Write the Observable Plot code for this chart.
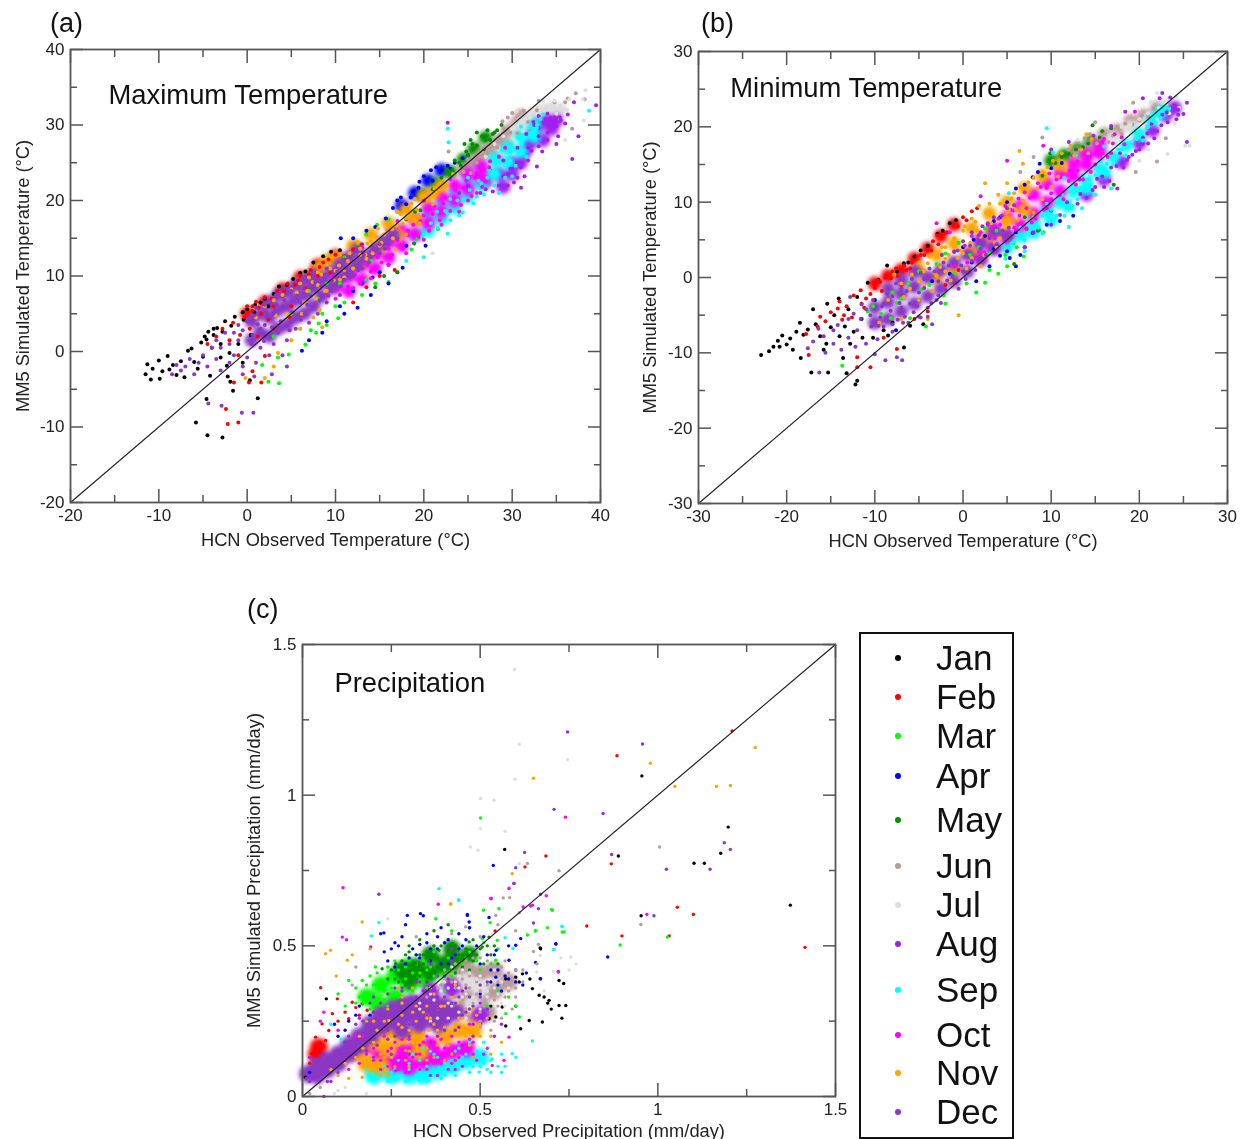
<!DOCTYPE html>
<html>
<head>
<meta charset="utf-8">
<script src="https://cdn.jsdelivr.net/npm/d3@7"></script>
<script src="https://cdn.jsdelivr.net/npm/@observablehq/plot@0.6"></script>
<style>
html,body{margin:0;padding:0;background:#fff;}
#page{position:relative;width:1247px;height:1139px;overflow:hidden;font-family:"Liberation Sans",Arial,sans-serif;color:#111;filter:blur(.35px);}
#page svg{position:absolute;max-width:none;background:transparent;}
.dense-band{filter:blur(2.2px);}
.tag{position:absolute;font-size:27px;line-height:30px;}
#legend{position:absolute;left:859px;top:632px;width:151px;height:503px;border:2px solid #111;}
.lg-dot{position:absolute;width:6px;height:6px;border-radius:50%;left:34px;}
.lg-txt{position:absolute;left:75px;font-size:35px;line-height:40px;}
</style>
</head>
<body>
<div id="page"></div>
<script>
const months=["Jan","Feb","Mar","Apr","May","Jun","Jul","Aug","Sep","Oct","Nov","Dec"];
const monthColors=["#000000","#ff0000","#00ff00","#0000ff","#008f00","#bc9a9a","#dedede","#a020f0","#00ffff","#ff00ff","#ffa500","#8a38c4"];

// Panel (a) maximum temperature: observed, simulated pairs
const maxJan=[-11.5,-3,-11.3,-1.7,-10.9,-3.7,-10.7,-2.3,-10,-1.2,-9.9,-3.6,-9.6,-2.6,-9,-.6,-8.8,-2.4,-8.4,-1.8,-8,-3.1,-7.5,-1.3,-7.1,-3.4,-6.7,.1,-6.3,.4,-6,-1.4,-5.6,-2.3,-5.2,1.2,-5,-.7,-4.8,2,-4.4,2.6,-4,.5,-3.8,3,-3.4,3.1,-3,-.8,-3,1,-2.5,4,-2.3,-1.9,-2,-.2,-1.4,4.6,-1,1,-.5,5.2,0,5.6,.4,2.2,.9,6.2,1.5,6.5,2,7,3,7.6,3.6,8.6,4.5,8.8,5.2,9.6,6,10.4,6.6,10.6,7.5,11.8,8.6,12.6,9.5,13.2,10.5,13.4,-5.8,-9.4,-4.5,-11.1,-2.8,-11.4,1.2,-6.2,-1.6,-5.2,-4.6,-6.3,-.5,-1.5,-1.9,-4,.3,-3.8,-4.2,-3.2,-2.2,-3.3,-3.8,2.2,-2.8,2.6,-1.8,3.4,-.4,4.2,.8,5.2,2.4,6,-4.6,1.6];
const maxFeb=[-4.5,1,-3.5,2,-2.8,3,-2,1.5,-1.6,3.8,-1,-.5,-.8,2.2,-.3,4.5,0,6,.3,3,.6,5.4,1,6.6,1.2,2,1.6,5,2,7.2,2.4,4.2,3,6,3.4,8,4,7.4,4.6,9,5,6,5.4,8.8,6,10,6.6,8.4,7.2,10.8,8,10,8.6,11.8,9.4,10.4,10,12.8,11,12.6,12,13.5,13,14.2,-1.5,-4.1,.2,-4.1,1.6,-4.1,.6,-2.6,2,-.6,-2.2,-9.6,-1,-9.4,-2.4,-7.6,.6,6,1.3,5.8,2.8,7,4.2,8,5.8,9.4,7,10.2,8.2,11.2,9.2,12.2,3,3,4.8,4.5,12,6.5,13.5,8.5,15,10,16.7,10.8];
const maxMar=[1.7,-1.8,3.6,-4.2,2.4,-4,4.7,-.4,6.6,.9,8.1,3.7,10.3,4.4,7.2,2.8,7.8,2.5,9,3.5,8.5,5,10,6,11,6.5,12,8,13,7.5,13.5,9.5,14.5,9,15,10.6,16,9.2,17,10.5,19.3,15,21.6,16.2,18.6,13.5,3,2,5,5,7,8,9,9,6,3,11,12.5,12.5,14.3,13.5,15.5,14.7,16.8,16,17.5,17,18.5,3.5,-.8,10.5,9,12,11,8,7,14,12];
const maxApr=[20.8,24,21.4,24.4,22.7,24.6,24.4,25.6,19.4,21.7,17.4,20.4,18.5,20.4,15.7,17.6,10.6,15,20.2,14,17.6,11.1,14.2,9.8,6.2,.1,12,15,13.5,16,14.5,16.5,16.5,19,18,19.5,19.5,22.5,20,23.2,21,22.6,22,24,23,24.2,23.5,25,25,26,12,8,13,9,15,10.5,16,11.5,18,14,9,4,10.5,6,11,5,7,1.5,8.5,2.5,16,9,12.5,5.8,14,7.5,17,20,18.8,21.2];
const maxMay=[25.3,28,27.2,29.3,28.3,29.3,25.6,26.9,24.2,24.6,22.7,24,19.6,18.7,17,10.5,18.9,14.3,23.2,24,24,25,25,26,26,27.3,26.6,28.5,27.5,28,28,29,26,29,25.5,27.5,27,28,24.8,26.5,22,23,21,21.5,20,20,19,18.5,18,17.5,19.5,17,15.5,10,14.5,8.5,23.5,25.3,24.6,27.5,26.8,26.8,27.8,28.8,28.8,30];
const maxJun=[29.5,31,31.3,31.9,30.6,28.9,28.3,27,27.2,26.2,25.3,23.6,37.2,34.2,36.3,33.5,38.2,33.4,26,25,26.7,27,28,28,29,29.6,29.8,29,30,31.6,24.5,23.8,25,25.4,28.9,30.5,31.8,30.4,32.8,32,35.4,30.8,36,33,34.8,33,33,33.2,22.8,26.5,36.8,29.5];
const maxJul=[34,32.4,35.5,32.6,38.3,34.6,38.1,30.6,29,28.5,30,29.5,31,30.5,32,31,32.8,32.5,33.5,33.2,34.8,33.2,36.2,32,36.5,33.4,35,31.5,37,33,38,33.4,30.5,31.8,27,25.8,28,27.5,31.2,29.2,28.5,21,21,13,36,28];
const maxAug=[33.6,30.3,30.6,27,30.6,23,29,25.3,31.8,25.3,35.5,30.6,22.7,30.3,39.5,32.6,36.3,31.4,37,33,24,21,25,22,26,23.5,27.5,24,27,21.5,28.5,22,29.5,22,30,24.2,31,21.7,31.8,27,33,28.5,33.4,26.5,34,28,35.2,28.5,35,29.8,32.5,30,33,31.2,34.3,31,36,30.2,34,31.5,36.8,25.5,37.5,28.5,30.5,25,32.8,24.5,29.5,23.5,33,29.6,33.8,30.8,34.4,30.4,34.8,31,35.4,31,32.4,30.4,31.6,28.8,32.2,26.6,31,24.4,30.2,22.4,29,23.2,33,27.2,34,29,35,27.5,29.8,24.2,27.8,21.2,26.4,21,31.4,23.2];
const maxSep=[22.7,29.5,22.8,27.7,22.7,15.6,20,12.5,38.7,31.9,29.8,25.3,32.1,28.9,27.2,23,24.5,20,22.7,18.3,31,29.8,30,27,28,25,25,23,26.5,22.3,27.8,23.8,23,20.2,21.5,18.5,29,27,31,28,32.8,30,33.5,31.4,30,23.2,31,26.2,18,12,20,15.5,24,18,26,20.5,28.5,21,19.8,15.2,20.8,17,21.6,16.4,22.4,18.6,23,17.4,23.8,20,24.4,18.4,25.2,21.4,25.6,19.6,26.2,22.6,26.8,20.8,27.4,24,28,22,28.6,25,29.2,23,29.8,26.4,30.4,24.6,31,27.6,31.6,25.8,32.2,28.6,32.8,29.6,33.2,30.8,30.6,28.4,28.8,26.6];
const maxOct=[26.8,24,24.5,21.7,22.2,19.6,19.6,17.3,17,14.7,14.8,12.5,12.5,10.7,27.5,25.2,25.8,23,23.4,20.4,21,18.2,18.2,16,16,13.6,13.6,11.5,11,9.5,9,7.5,10,7,12,8.4,14,9.7,16,11.5,18,13,20,14.8,22,16.8,24,18.5,25,20,26,21,27,22.5,28.5,25.8,29.2,27,9.5,10,13,13.8,17,17.3,20,20,23,22.8,11.4,8.6,12.2,10.2,12.8,9,13.4,11.6,14,10.6,14.6,12.8,15.2,11.8,15.8,13.8,16.4,12.8,17,15,17.6,13.6,18.2,15.4,18.8,16.8,19.4,15.2,20,18,20.6,16,21.2,19.2,21.8,17.4,22.4,20.4,23,18.6,23.6,21.4,24.2,19.4,24.8,22.6,25.4,20.6,26,23.6,26.6,21.8,27.4,24.4];
const maxNov=[20.4,20.4,18.1,18.7,15.9,16.4,13.6,14.3,11.4,12,21.5,21.5,22.5,22,23.3,23.5,19,20.2,17,18.5,14.8,16.3,12.5,14.5,10.5,12.8,9,11.5,8,10.5,7,9.8,6,9,5,8.2,4,7.5,3,6.8,2,6,1,4.5,9,8,10.5,9.5,12,11,13.5,12.3,15,14,16.5,15,18,15.5,19.5,17,21,19.5,6,3,7.5,4.5,8.5,3.2,5,1.5,3.5,-.2,2,-3.5,3,-2,-.2,-3.5,6.5,6.5,8,8.8,10,10.7,11,9.8,12.8,12.8,14.2,13,15.5,15.5,16.8,13.5,17.6,17,8.2,5.5,4.5,5,3.2,4.8,5.6,7.8,6.2,5,6.8,8,7.4,9.2,7.8,7,8.4,10.2,8.8,8,9.4,11,9.8,9.4,10.4,11.4,11,10.8,11.6,13,12.2,12,12.8,13.6,13.4,12.8,14,14.6,14.6,15.2,15.2,14.4,15.8,16.2,16.4,16.2,17,16.8,17.4,18.2,18,17.6,18.6,19.6,19.2,18.8,19.8,20.4,20.6,20.2,21.2,21.6];
const maxDec=[-8.5,-3,-8,-1.8,-7.5,-2.5,-7,-2,-6.5,-1,-6,-3,-5.5,-1.5,-5,-.5,-4.5,-2,-4,.5,-3.5,-1,-3.5,1.5,-3,-2.5,-3,.5,-2.5,2.5,-2,-1.5,-2,1,-1.5,2.5,-1.5,-.5,-1,1.5,-1,3.5,-.5,-2,-.5,2.8,0,-.8,0,4,.5,1,.8,4.8,1,-1.5,1.5,.5,1.5,3,2,2,2.5,-.5,3,1,3.5,2.5,4.5,1.5,5,4,5.5,3,6,6.5,6.5,5,7,3.8,7.5,6,8,5,8.5,7.5,9,6.5,9.5,8,10,9,10.5,7.5,11,9.5,12,10,13,11,14,12.5,15,13,16,14.2,17,15,2,3.5,3,5,4,6,5,8,7,8.5,9,11,11,12.2,-4.4,-6.9,-2.9,-7.2,-.6,-8.1,.7,-8.1,-.5,-3,.8,-3.3,2.8,-3,4.5,-2,4,-.5,.6,2.2,1.2,3.6,1.9,1.4,2.2,5.2,2.8,3.2,3.3,6.2,3.8,4,4.2,6.8,4.8,2.8,5.1,5.2,5.6,7.4,6.1,4.2,6.4,8.4,6.8,6.2,7.2,7.4,7.7,9.2,8.2,6.8,8.4,8.6,8.8,10.2,9.2,7.4,9.6,9.4,10.2,10.6,10.6,8.6,11.2,11,11.6,9.8,12.2,12,12.6,10.8,13.2,12.8,13.8,11.8,14.2,13.8,15,14.2,15.6,13.6,16.2,15.4,1,5.8,2,6.2,3.2,7.4,4.6,8.2];
const maxFebDense=[0,5,2,6.5,4,8.2,6,9.8,8,11.4,10,12.6];
const maxAprDense=[17.5,19.3,19,21,20.5,22.6,22,24];
const maxMayDense=[20,20.7,21.5,22.2,23,23.8,24.5,25.4,25.7,26.8,27,28.3];
const maxJunDense=[24.5,24,25.5,25,26.5,26,27.5,27,28.5,28,29.5,29.2,30.5,30.2,31,31.2,28.2,25.5,29.5,27.2];
const maxJulDense=[30.5,29.5,31.5,30.5,32.5,31.5,33.5,32,34.5,32.3,35.5,32,31.5,28.5];
const maxAugDense=[33,30,34,30.5,35,30.6,32.5,29,31,25,31.5,26.5,30,23.5,32,27.5,30,25,28.5,23.5,27,22.5,33.5,28,34.5,29.5,29,21.8];
const maxSepDense=[19,15.5,20.5,16,20.5,18,22,17.5,22,19.5,23.5,19,23.5,21,25,20.5,25,22.5,26.5,22,26.5,24,28,23.5,28,25.5,29.5,25,29.5,27,31,26.5,31,28.5,32.5,28.5,32.5,30];
const maxOctDense=[10,8.5,11.5,10,11.5,8,13,11.5,13,9.5,14.5,13,14.5,11,16,14.5,16,12.5,17.5,16,17.5,14,19,17.5,19,15.5,20.5,19,20.5,17,22,20.5,22,18.5,23.5,22,23.5,20,25,23.5,25,21.5,26.5,24.5,26.5,23];
const maxNovDense=[6,9,7,10,8,11,9,12,10,12.5,12,14,14,15.5,16,17,18,18.8,20,20.5,21,21,22,22,13,12,15,13.8,17,15.5,19,17.5];
const maxDecDense=[.5,1.5,.5,4,1.5,2.5,1.5,5,2.5,2,2.5,4.5,2.5,6.5,3.5,3,3.5,5.5,3.5,7.5,4.5,3.5,4.5,6,4.5,8,5.5,4.5,5.5,6.8,5.5,8.8,6.5,5,6.5,7.5,6.5,9.5,7.5,6,7.5,8.5,7.5,10.2,8.5,7.3,8.5,9.5,9.5,8.5,9.5,10.5,10.5,9.5,10.5,11.5,11.5,10.5,11.5,12.5,12.5,11.5,12.5,13.5,13.5,12.5,14.5,13.5,15.5,14.5,16.5,15.5];

// Panel (b) minimum temperature: observed, simulated pairs
const minJan=[-22.9,-10.3,-22,-9.8,-21.5,-9.2,-21,-8.4,-20.5,-7.7,-20.8,-9.2,-20,-8.9,-19.6,-8.1,-19.3,-9.6,-18.9,-7.2,-18.5,-6,-18.1,-7.6,-18.4,-10.7,-17.6,-6.9,-17.2,-12.6,-17,-4.2,-16.7,-6.2,-16.2,-7.8,-15.8,-9.6,-15.4,-3.5,-15.3,-12.6,-15,-6.6,-14.6,-5,-14.1,-2.8,-13.6,-10.7,-13.2,-12.7,-13.4,-6.5,-13,-4.2,-12.4,-7.2,-12,-13.7,-12.2,-14.2,-12,-2.6,-11.4,-8,-10.8,-.7,-10.2,-8,-10,-3,-9.6,-.3,-9,-7,-8.6,1.6,-8.5,-7.7,-8,-6,-7.5,.8,-6.7,-9.3,-6.7,1.9,-6.2,2,-6,-6.4,-5.5,2.8,-4.8,3.6,-4,4.2,-2.9,5.8,-2.3,6.2,-1.5,7.2,-.8,7.6,-4.5,-6.2,-11.5,-5.5,-12.8,-8.8,-15.5,-8.8,-14,-7.8];
const minFeb=[-17.5,-10.3,-16.2,-5.2,-15.6,-5.8,-15,-4.6,-14.2,-4.1,-13.7,-5.6,-13.2,-3.8,-12.6,-5.3,-12,-10.6,-12,-11.9,-11.6,-1.7,-11.2,-4,-10.5,-11.9,-10.5,-2.2,-9.7,-.4,-9.2,-1.8,-8.2,-.1,-7.6,1.2,-7,-1,-6.7,1.6,-6,1.2,-5.2,2.8,-4.8,3,-4,3.6,-3.4,4.8,-2.9,5.6,-2,5.9,-1.1,7.1,0,8,1,8.8,-17.8,-7.5,-16.5,-6.5,-5.5,-5.5,-4,-4.5,-2,-1,-.5,1,-7.5,-9.5,-9,-8,-14,-3.2,-12.4,-2.4,-11,-2.8,-10,-1.4,-9.4,-.6,-8.8,0,-8,.8,-7.4,.2,-6.4,1,-5.8,2,-4.4,3,-3.6,3.6,-2.8,4.4,-1.8,6,-.6,6.8,.4,7.6,1.6,9.2,-13.5,-5,-11.5,-3.5];
const minMar=[-13.7,-11.7,-10.8,-4.5,-10.2,-3.8,-9.3,-4.8,-8.2,-5.4,-7.5,-3.4,-7,-2.8,-6,-5.4,-4.2,-6.5,-2.2,-2.4,-2,-3.5,.4,-.8,1.5,-2,3,1,6.1,4,5.7,4.5,9.1,6,4,.5,-4.7,-1.6,-5,.8,-3,1.8,-2,3.2,-.5,4.6,1.8,4,2.5,6.5,3.8,6.2,4.8,3,5,1.5,2.5,-.7,6.9,2.8,-6.2,-.8,-8,-2,-3.8,-1,-1,.5,.8,3,3,3.2];
const minApr=[7.9,13.3,8.7,15.1,12.5,8.2,10,8.9,7.9,5.9,5.3,2.6,4.2,2.9,3,1.5,6,1.5,7,4,6,6,5,3.5,3.5,3.8,1.5,-.5,-7.6,-7,-5,-3,-1.5,.5,1,2,2.5,5.5,3.5,7.5,5,10,6,11.8,7,12.3,8.5,14,10,14.5,11.2,15.2,6.5,3,8.6,6.3,9.5,7,11,7.5,0,4,-3.5,-.5,4.2,8,1.2,5];
const minMay=[14.7,20.2,15.5,18.6,13.6,17.3,9.9,16.5,17.1,12.3,12,16.4,12.8,17,14.2,17.8,15.8,19.4,16.8,19.8,10.5,15.2,11.2,16,9,13.5,7,8,8.5,6.2,5.8,1.8,7.2,6.5];
const minJun=[18.4,20.4,16.1,19.1,20.3,21.5,19.3,23.2,22,15.4,15,20.6,13,18,12,17,14.2,16.5,16.5,18,17.5,20,19.2,20.3,20,20.8,21,21.3,21.6,22.4,18,19,13.8,18.5,15.2,17.8,17,18.8,14.4,19,9,18.6,8,16,6.5,14,19.6,14,23,18.5];
const minJul=[18,20,19,20.3,20,21,21,21.8,22,21,22.2,22.5,23,23,23.4,21.8,24,20.5,24.5,22.5,24.2,24,22,24.5,21.3,23.3,21,17,20,15.5,23.2,16.4,25.2,17.5,25.7,17.5,16,16,14,13.5,12.5,10,10,7,13,18.3];
const minAug=[23.1,21.9,20.9,19.1,17.8,16.5,15.2,13.1,13.3,11.1,25.4,23.2,25.4,18,20.4,23.8,22.3,23.8,23.5,23.9,24.4,22.3,24.2,21,22.5,20.2,21.7,18.5,20.4,17.8,19.2,16.3,18.6,15.6,16.8,14.6,16,12,14.7,11.6,13.2,13,11.8,10,11,8.3,9.5,9.2,10,7,8,6,7,4,16.8,20.1,14.8,18.8,12,18,10,17,18.4,22,22.6,24.5,20,17,25,21.7,17.5,11.8,15,12,15.8,13.4,16.6,12.8,17.4,14.8,18.2,14.6,18.8,16,19.6,16.8,20.4,18.6,21,17.8,21.4,20.4,22,19.4,22.6,21.6,23.2,20.6,24,22.8,24.4,21.6,13,9.8,14,10.6];
const minSep=[16.3,15.1,13.3,11.9,9.5,9.8,6.5,6.6,18.6,17.3,20.9,19.9,22.3,22.2,14.2,12.4,17.5,16.2,19.7,18.4,21.5,20.8,23,22.6,11,10.4,8,8,11.5,8.2,12,6.7,9,5.8,7,3.5,10.2,16.6,9.5,19.8,16.8,11.8,13.5,9.2,15,11,5.5,4.5,4.8,2.5,18,17,16,17.4,12.8,16.2,11.5,13.2,5.2,11.2,5.8,4.8,7,5,7.4,7,8.6,6.6,9,8.2,10,9,10.6,8.2,11.2,11,11.8,9.2,12.4,12.4,13,10.4,13.6,13.6,14.4,12.2,15,13.6,15.6,15.4,16.4,13.8,17,15,17.6,17,18.4,16.2,19,17.8,19.6,19.2,20.4,18.2,21,20,21.8,20.6,22.4,21.2,23.4,22.4];
const minOct=[12.1,14.2,9.5,11.9,5.7,8.9,3.4,6.6,15.2,16.9,11,13.3,13,15.4,14,15.2,10,10.4,8.5,12.5,7.2,9.2,6.3,10.5,4.8,9.5,4,7.8,3,5.5,2,6,1.8,3.4,1,5.5,.5,2,-1,1.5,-1.5,6,16,18.4,17.2,19,18.3,17.7,16.8,16.5,9.1,17.5,5,15.5,2,10.8,-3,7.2,14.5,14,12.8,12.3,11,11,6,6.3,7.8,7.3,19.5,22,.2,4.2,-1,3.5,7,11.3,9.8,13.8,1.4,2.6,2.4,3.4,2.8,7,3.6,5.2,4.2,7,4.8,4.8,5.4,9,5.8,6.6,6.4,8.2,7.2,6.4,7.6,10.6,8.2,7.8,8.8,12,9.2,9,10,11.2,10.6,13,11.4,10.4,12,12.8,12.4,16.2,13,14.2,13.6,13,14.4,16,15,15,15.8,18,16.4,16,17,17.8,18,18.6];
const minNov=[-6.7,-2.6,-4,1.9,0,3.2,5,12.5,6.8,15.1,2.5,12.5,-5,-.5,-3,.2,-2,2.5,-1,4,0,6.2,1,7.8,1.8,9.5,3,9.8,4,11,5.5,10.5,6.5,12,8,13.2,9,14,10.2,15.5,11.2,16.5,12.2,17.5,14,19,3.8,4,2,1.5,-1,-1,-5,-3,-7,-5.5,-8.5,-3,-9.5,-6,-4,-5.5,-.5,-5,6.4,16.8,-7.8,.4,6,9,-6,-1.5,-4.5,.8,-3.5,-1.8,-2.6,1.4,-2,4,-1.4,-.4,-.6,2.6,.4,1.2,.8,4.6,1.6,6.2,2.4,3,3.2,7.2,4.2,5.2,5,8.6,-5.8,.4,-5,2,-4.4,-1,-3.8,2.8,-3.2,.6,-2.4,4,-2,.8,-1.6,3,-1,5.2,-.2,3.6,.2,6.8,1,2.6,1.4,7.4,2,5.4,2.6,8.6,3.6,4.6,4.2,9.8,4.8,6.6,5.2,9,5.8,11.2,6.2,7.6,6.8,10.2,7.4,12.6,8,8.6,8.4,11.8,9,10.4,9.6,14.6,10,12,10.8,13.4,11.6,14.2,12.6,16.2,13.4,17,14.6,18.4,-7,-.8];
const minDec=[-17.6,-9.4,-14.7,-7,-14.7,-8.8,-12.4,-4.8,-9.4,-5.3,-16.3,-12.6,-8.8,-11,-7.5,-10.6,-6.9,-11,-3.5,-6.2,-4.8,-5.3,-17,-8.5,-16.4,-6.8,-15.8,-7.8,-15.6,-10,-14.2,-6.3,-13.8,-9.6,-13,-8,-13,-5.5,-12.2,-9.2,-12,-7,-11.6,-5.5,-11,-8.8,-11,-4.2,-10.4,-6.5,-10.2,-3,-10,-10.2,-9.7,-8.2,-9,-6.5,-9,-3.5,-8,-7.2,-8,-2.5,-7.4,-5.6,-7,-4,-7,-1.5,-6.2,-6,-6,-3.5,-5.6,-1.6,-5,-5.2,-5,-2,-4.4,-.2,-4,-4,-3.8,1.2,-3,-3,-2.8,-.5,-2.2,2,-2,-1.6,-1.2,.2,-1,3.4,0,.8,0,4.8,1,2.2,1,6,2,3.8,2.2,6.8,3,5.2,3.5,8,4.5,6.2,5,9.2,-12.8,-2.6,-11.5,-3.6,-10.5,-5,-9.6,-6.4,-9.2,-3.8,-8.6,-2.2,-8.2,-4.4,-7.6,-.8,-7.2,-3.4,-6.6,-5.2,-6.4,-1.8,-5.8,-.2,-5.2,-3.8,-4.8,.6,-4.4,-1.4,-3.6,-3.4,-3.2,.8,-2.8,-2.4,-2.4,3,-1.8,-.4,-1.6,1.6,-1,-.8,-.6,3.6,-.2,1.6,.3,-.2,.8,4.2,1.4,1,1.8,5.6,2.6,3,2.8,7.2,3.8,4.4,4.4,8.2,5.2,6.6,5.8,9.6,-8,-6.2,-6.8,-6,-2.5,-3.4,-.5,-1.5,-4,-5.2,-5.6,-4.6];
const minFebDense=[-10,-.8,-8.5,.2,-7,1,-5.5,2.5,-4,3.8,-2.5,5.5,-1,7];
const minMayDense=[10,15.5,11.5,16.2,13,17,14.5,18];
const minJunDense=[13,16.5,14.5,17.5,16,19,17.5,19.5,19,20.8,20.5,21.5,22,22.5];
const minJulDense=[17,18.5,19,20,21,21,23,23,24,22.5];
const minAugDense=[14,11,16,13,18,15.3,20,17.8,21.5,19.5,23,21.5,24,22.5];
const minSepDense=[5,4,6.5,5.5,8,7.2,9.5,8.8,11,10,12.5,11.5,14,13,15.5,14.5,17,16,18.5,17.5,20,19,21.5,21,22.5,22,8,6,10,7.6,12,9.5,14,11.8,16,14];
const minOctDense=[2,2.8,2,5,3.5,4,3.5,6.5,5,5.5,5,8,6.5,7,6.5,9.5,8,8.5,8,11,9.5,10,9.5,12.5,11,11.5,11,13.8,12.5,13.5,12.5,15,14,15,14,16.3,15.5,16.5,15.5,17.5];
const minNovDense=[-5,1,-3,3,-1,4.5,1,6.5,3,8.5,5,10,7,11.8,9,13.5,11,15,-3,0,-1,1,1,3.5,3,5.5,5,7.5,7,9];
const minDecDense=[-10,-6,-10,-4,-8.5,-5.5,-8.5,-3.3,-8.5,-1.5,-7,-4.5,-7,-2.2,-7,-.3,-5.5,-3.5,-5.5,-1.2,-5.5,.8,-4,-2.5,-4,0,-2.5,-1.5,-2.5,1,-1,-.5,-1,2,.5,.8,.5,3,2,2.3,2,4.5,3.5,3.8,3.5,6,5,5.5];

// Panel (c) precipitation: observed, simulated pairs
const preJan=[.955,1.064,1.198,.894,1.177,.807,1.131,.774,1.102,.774,.889,.798,.569,.82,1.373,.635,.953,.6,.669,.493,.572,.391,.6,.396,.619,.407,.647,.358,.666,.336,.722,.385,.735,.375,.562,.297,.572,.234,.638,.252,.614,.225,.694,.319,.722,.302,.741,.302,.675,.247,.525,.258,.544,.264,.501,.241,.008,.064,.067,.324,.67,.49,.64,.39,.61,.38,.68,.33,.7,.29,.69,.31,.73,.26,.6,.3,.53,.3];
const preFeb=[.885,1.131,.626,.762,.685,.798,.869,.772,1.055,.628,1.1,.604,.8,.566,.899,.533,1.032,.533,1.414,.495,1.209,1.213,.542,.549,.051,.361,.098,.324,.055,.241,.084,.275,.14,.313,.168,.308,.182,.286,.13,.258,.074,.219,.027,.142,.065,.186,.037,.197,.15,.295,.16,.27,.1,.25,.12,.28,.2,.28,.02,.11];
const preMar=[.501,.924,1.027,.529,.894,.503,.701,.621,.736,.546,.689,.56,.509,.618,.553,.623,.528,.577,.655,.549,.633,.536,.548,.518,.168,.385,.205,.43,.3,.452,.13,.385,.506,.524,.703,.618,.731,.546,.656,.551,.544,.452,.375,.59,.572,.275,.61,.264,.22,.36,.25,.41,.28,.37,.18,.34,.16,.33,.23,.32,.26,.45,.2,.37,.33,.37,.35,.42,.4,.35,.1,.34,.27,.33,.31,.41,.55,.35,.58,.33,.6,.3,.47,.56,.42,.55,.19,.4,.24,.38,.29,.43,.32,.47,.38,.4,.43,.44,.5,.42,.24,.3,.52,.3,.46,.46,.34,.45,.15,.36,.12,.3,.37,.48,.17,.31,.18,.37,.2,.34,.21,.41,.23,.35,.24,.43,.25,.36,.27,.42,.28,.31,.29,.39,.31,.35,.32,.44,.33,.41,.35,.36,.36,.43,.37,.4,.39,.37,.41,.46,.42,.4,.45,.44,.47,.48,.49,.45,.51,.51,.53,.44,.55,.49,.19,.29,.26,.38,.15,.31];
const preApr=[.537,.767,.859,.463,.713,.506,.464,.601,.525,.594,.614,.524,.6,.502,.656,.445,.669,.391,.332,.607,.34,.6,.295,.601,.229,.543,.464,.604,.469,.579,.29,.57,.33,.505,.25,.49,.545,.485,.581,.452,.544,.396,.67,.391,.713,.507,.09,.24,.13,.25,.12,.22,.02,.08,.38,.53,.41,.52,.26,.51,.22,.54,.36,.49,.32,.47,.44,.49,.5,.44,.53,.42,.57,.4,.6,.38,.5,.34,.63,.41,.58,.5,.16,.3,.19,.27,.3,.46,.35,.51,.39,.56,.43,.47,.46,.52,.28,.53,.24,.45,.41,.44,.55,.37,.52,.47,.15,.27,.1,.2,.23,.48,.26,.43,.27,.5,.29,.44,.31,.49,.33,.46,.35,.54,.36,.45,.38,.49,.4,.51,.42,.46,.44,.54,.45,.5,.47,.56,.49,.5,.51,.53,.53,.38,.55,.42,.56,.35,.58,.39,.6,.42,.62,.37,.54,.47,.39,.44];
const preMay=[.384,.485,.318,.441,.281,.407,.422,.507,.469,.513,.506,.496,.262,.441,.355,.45,.525,.529,.224,.424,.3,.48,.34,.42,.36,.47,.4,.45,.44,.47,.46,.49,.28,.45,.32,.39,.25,.42,.33,.52,.37,.55,.41,.57,.3,.5,.49,.47,.53,.47,.55,.44,.35,.38,.38,.43,.43,.41,.3,.42,.27,.38,.48,.52,.39,.5,.51,.44,.24,.39,.47,.42,.34,.47,.26,.39,.28,.43,.29,.47,.31,.43,.33,.4,.34,.44,.35,.48,.37,.41,.38,.46,.39,.42,.41,.48,.41,.43,.43,.5,.45,.43,.45,.47,.48,.45,.5,.49,.52,.5,.54,.5,.29,.37,.33,.47,.37,.5];
const preJun=[1.005,.828,.722,.749,.633,.773,.581,.692,.565,.659,.583,.66,.952,.571,.65,.481,.664,.505,.544,.601,.459,.563,.52,.43,.55,.38,.58,.35,.62,.42,.6,.33,.56,.26,.5,.28,.47,.36,.44,.42,.53,.27,.47,.3,.42,.38,.4,.42,.48,.43,.52,.37,.42,.54,.5,.53,.6,.55,.55,.57,.61,.61,.66,.44,.02,.01,.05,.03,.07,.05,.32,.53,.14,.37,.15,.43,.45,.39,.49,.34,.51,.4,.54,.32,.57,.37,.59,.29,.43,.33,.46,.45,.5,.46,.38,.36,.53,.22,.5,.23,.57,.45,.6,.42,.35,.33,.39,.37,.41,.4,.43,.36,.44,.41,.45,.32,.46,.37,.47,.4,.48,.31,.49,.38,.5,.35,.51,.3,.52,.42,.53,.35,.55,.3,.56,.43,.57,.33,.58,.41,.6,.36,.62,.38,.46,.29,.5,.25,.54,.25,.43,.44,.48,.46,.52,.45];
const preJul=[.597,1.417,.61,1.169,.746,1.118,.598,1.053,.501,.989,.539,.983,.501,.889,.57,.88,.473,.828,.494,.817,.61,.773,.755,.463,.727,.46,.659,.413,.706,.415,.669,.468,.36,.34,.4,.38,.44,.36,.48,.33,.52,.35,.56,.31,.42,.3,.38,.26,.46,.26,.5,.4,.42,.43,.47,.41,.68,.35,.75,.42,.77,.44,.09,.01,.1,.02,.06,.0,.18,.01,.24,.59,.12,.03,.33,.31,.41,.36,.45,.33,.49,.37,.53,.31,.39,.3,.44,.4,.47,.28,.54,.42,.35,.27,.3,.24,.56,.38,.37,.32,.39,.35,.41,.31,.43,.38,.44,.28,.46,.34,.47,.3,.49,.39,.5,.29,.51,.38,.52,.33,.54,.36,.55,.34,.57,.3,.58,.36,.45,.42,.41,.26,.36,.25,.33,.29];
const preAug=[.746,1.21,.708,.953,.846,.939,.215,.671,.595,.707,.192,.496,.3,.3,.34,.35,.38,.33,.42,.31,.46,.28,.48,.24,.5,.33,.54,.2,.56,.24,.47,.17,.25,.3,.2,.33,.16,.26,.08,.05,.03,.06,.42,.45,.36,.44,.42,.49,.06,.0,.3,.24,.38,.2,.02,.13,.45,.35,.4,.4,.32,.38,.28,.35,.52,.29,.35,.27,.44,.23];
const preSep=[.439,.653,.57,.527,.73,.565,.706,.488,.592,.491,.262,.053,.328,.053,.356,.053,.384,.097,.45,.131,.497,.081,.534,.125,.59,.142,.647,.184,.384,.69,.44,.651,.731,.563,.708,.488,.215,.577,.194,.533,.25,.08,.3,.09,.35,.1,.4,.07,.42,.12,.48,.1,.3,.11,.27,.12,.36,.15,.44,.16,.49,.15,.52,.09,.56,.14,.56,.08,.53,.08,.23,.1,.08,.24,.11,.19,.32,.07,.38,.13,.44,.09,.46,.14,.5,.1,.33,.12,.4,.11,.27,.06,.21,.06,.18,.09,.34,.16,.22,.08,.24,.05,.26,.09,.28,.07,.29,.05,.31,.06,.33,.09,.35,.05,.37,.08,.39,.06,.41,.09,.43,.07,.45,.11,.47,.08,.48,.12,.51,.11,.53,.12,.55,.1,.57,.1,.25,.13,.31,.14,.37,.14,.43,.15,.47,.18,.51,.18,.6,.13];
const preOct=[.74,.927,.686,.666,.531,.657,.642,.632,.621,.629,.969,.604,.72,.413,.262,.086,.356,.164,.403,.12,.32,.14,.45,.142,.534,.103,.567,.12,.581,.197,.114,.693,.112,.529,.124,.52,.382,.638,.53,.657,.581,.69,.647,.635,.72,.415,.25,.12,.29,.1,.33,.09,.37,.11,.43,.09,.28,.15,.41,.17,.47,.19,.52,.16,.3,.19,.35,.2,.22,.12,.2,.16,.15,.2,.1,.22,.06,.28,.05,.25,.36,.07,.4,.14,.47,.24,.48,.14,.24,.15,.27,.09,.31,.13,.34,.11,.38,.16,.42,.11,.44,.13,.33,.17,.3,.08,.26,.18,.18,.14,.23,.2,.39,.19,.17,.2,.14,.16,.2,.12,.22,.09,.24,.1,.25,.16,.27,.13,.29,.08,.3,.16,.32,.1,.33,.14,.35,.09,.36,.13,.37,.18,.39,.11,.4,.16,.41,.09,.43,.12,.44,.18,.45,.1,.46,.16,.48,.18,.49,.12,.51,.14,.38,.07,.28,.19,.34,.18,.42,.2,.16,.11,.13,.09];
const preNov=[.168,.579,.417,.64,.065,.474,.079,.485,.126,.452,.19,.49,.14,.47,.095,.4,.65,1.056,.979,1.106,1.274,1.158,1.048,1.029,1.165,1.029,1.204,1.032,.59,.739,.417,.638,.29,.153,.243,.252,.356,.219,.45,.208,.168,.064,.13,.06,.469,.275,.2,.18,.22,.14,.26,.1,.3,.22,.33,.13,.38,.17,.4,.23,.42,.14,.47,.17,.5,.24,.32,.3,.28,.33,.35,.3,.2,.09,.24,.07,.53,.2,.56,.18,.18,.25,.15,.13,.1,.07,.4,.3,.44,.26,.36,.36,.33,.38,.28,.27,.25,.2,.37,.24,.08,.09,.27,.24,.31,.18,.35,.26,.41,.2,.45,.26,.23,.19,.29,.12,.37,.13,.34,.21,.21,.22,.17,.16,.12,.11,.48,.29,.42,.33,.38,.29,.32,.25,.28,.31,.24,.29,.16,.2,.19,.13,.2,.25,.23,.25,.25,.13,.27,.17,.28,.23,.3,.15,.31,.28,.33,.2,.34,.28,.35,.16,.36,.26,.38,.22,.39,.3,.41,.17,.43,.24,.44,.31,.46,.2,.47,.23,.49,.27,.5,.2,.52,.26,.31,.36,.37,.34,.43,.37,.27,.36,.23,.13,.35,.12,.22,.07,.3,.1,.4,.12,.48,.13,.53,.14];
const preDec=[.957,1.17,.625,.81,.87,.803,.6,.759,.595,.707,1.024,.754,1.147,.754,1.187,.842,1.204,.82,.989,.6,.65,.576,.664,.623,.67,.671,.03,.12,.06,.14,.11,.15,.15,.14,.13,.2,.17,.21,.2,.19,.22,.25,.24,.22,.27,.28,.3,.24,.32,.29,.34,.32,.37,.27,.39,.31,.42,.28,.44,.33,.46,.36,.48,.3,.5,.37,.52,.38,.48,.2,.36,.18,.3,.14,.25,.14,.24,.34,.28,.36,.33,.38,.38,.4,.41,.39,.15,.24,.19,.31,.22,.31,.1,.08,.07,.05,.43,.22,.45,.17,.2,.13,.26,.36,.02,.05,.47,.33,.42,.34,.36,.35,.3,.36,.2,.28,.18,.15,.26,.2,.33,.23,.38,.24,.01,.06,.03,.09,.05,.08,.06,.11,.08,.1,.09,.13,.12,.12,.14,.16,.16,.15,.18,.18,.2,.23,.21,.17,.23,.27,.24,.19,.26,.24,.27,.31,.29,.27,.31,.24,.32,.33,.35,.29,.36,.24,.38,.29,.4,.33,.41,.25,.43,.31,.45,.27,.47,.29,.5,.31,.12,.18,.17,.25,.22,.29,.05,.11,.3,.2,.34,.26,.4,.22];
const preFebDense=[.046,.164,.04,.14];
const preMarDense=[.18,.33,.22,.37,.26,.33,.26,.4,.3,.37,.3,.43,.34,.39,.21,.31,.4,.42];
const preMayDense=[.28,.42,.32,.43,.36,.41,.36,.47,.4,.44,.44,.44,.42,.49,.47,.47,.3,.39];
const preJunDense=[.42,.38,.46,.35,.5,.32,.54,.35,.58,.38,.5,.41,.46,.42,.54,.42,.52,.28,.48,.27,.44,.3];
const preJulDense=[.38,.33,.42,.33,.46,.38,.5,.36,.48,.3,.4,.28,.36,.3];
const preAugDense=[.3,.3,.36,.35,.42,.36,.5,.27];
const preSepDense=[.25,.07,.3,.07,.34,.07,.38,.085,.42,.1,.46,.12,.5,.13,.28,.1,.36,.12,.2,.07];
const preOctDense=[.22,.13,.26,.11,.3,.1,.34,.12,.38,.13,.42,.15,.46,.16,.28,.15,.36,.17,.32,.16,.19,.17];
const preNovDense=[.15,.15,.2,.18,.24,.16,.24,.22,.28,.2,.32,.2,.4,.2,.44,.22,.48,.22,.33,.15,.18,.11,.22,.1];
const preDecDense=[.015,.075,.04,.07,.04,.1,.07,.09,.07,.12,.1,.11,.1,.14,.13,.14,.13,.17,.16,.17,.16,.2,.19,.2,.19,.24,.22,.23,.22,.27,.25,.25,.25,.29,.28,.26,.28,.3,.31,.27,.31,.31,.34,.28,.34,.31,.37,.27,.37,.31,.4,.26,.4,.3,.43,.28,.28,.22,.33,.24,.38,.24];

const maxScatter=[maxJan,maxFeb,maxMar,maxApr,maxMay,maxJun,maxJul,maxAug,maxSep,maxOct,maxNov,maxDec];
const maxDense=[[],maxFebDense,[],maxAprDense,maxMayDense,maxJunDense,maxJulDense,maxAugDense,maxSepDense,maxOctDense,maxNovDense,maxDecDense];
const minScatter=[minJan,minFeb,minMar,minApr,minMay,minJun,minJul,minAug,minSep,minOct,minNov,minDec];
const minDense=[[],minFebDense,[],[],minMayDense,minJunDense,minJulDense,minAugDense,minSepDense,minOctDense,minNovDense,minDecDense];
const preScatter=[preJan,preFeb,preMar,preApr,preMay,preJun,preJul,preAug,preSep,preOct,preNov,preDec];
const preDense=[[],preFebDense,preMarDense,[],preMayDense,preJunDense,preJulDense,preAugDense,preSepDense,preOctDense,preNovDense,preDecDense];

const pairs=a=>d3.range(0,a.length,2).map(i=>[a[i],a[i+1]]);
const page=document.getElementById("page");

function panel({scatter,dense,domain,major,minor,xLabel,yLabel,title,titleAt,box,margins,r,rDense,xOff,yOff}){
  const edge=(axis,anchor,ticks,size)=>axis(ticks,{anchor,tickSize:-size,tickFormat:()=>"",stroke:"#555",strokeWidth:1.5,label:null});
  const marks=[];
  months.forEach((m,i)=>marks.push(Plot.dot(pairs(dense[i]),{x:"0",y:"1",r:rDense,fill:monthColors[i],stroke:null,className:"dense-band"})));
  months.forEach((m,i)=>marks.push(Plot.dot(pairs(scatter[i]),{x:"0",y:"1",r,fill:monthColors[i],stroke:null})));
  marks.push(Plot.line([domain,domain].map((d,i)=>[d[i],d[i]]),{x:"0",y:"1",stroke:"#222",strokeWidth:1.2}));
  marks.push(Plot.text([title],{x:()=>titleAt[0],y:()=>titleAt[1],text:d=>d,textAnchor:"start",fontSize:27.4,fill:"#111"}));
  for(const a of ["bottom","top"]){marks.push(edge(Plot.axisX,a,major,13),edge(Plot.axisX,a,minor,7));}
  for(const a of ["left","right"]){marks.push(edge(Plot.axisY,a,major,13),edge(Plot.axisY,a,minor,7));}
  marks.push(Plot.axisX(major,{anchor:"bottom",tickSize:0,tickPadding:6,tickFormat:d=>String(d),label:null,fill:"#222"}));
  marks.push(Plot.axisY(major,{anchor:"left",tickSize:0,tickPadding:6,tickFormat:d=>String(d),label:null,fill:"#222"}));
  marks.push(Plot.axisX(major,{anchor:"bottom",tickSize:0,tickFormat:()=>"",fontSize:18.3,label:xLabel,labelAnchor:"center",labelArrow:"none",labelOffset:xOff,fill:"#222"}));
  marks.push(Plot.axisY(major,{anchor:"left",tickSize:0,tickFormat:()=>"",fontSize:18.3,label:yLabel,labelAnchor:"center",labelArrow:"none",labelOffset:yOff,fill:"#222"}));
  marks.push(Plot.frame({stroke:"#555",strokeWidth:1.8}));
  const svg=Plot.plot({
    width:box[2],height:box[3],
    marginLeft:margins[0],marginRight:margins[1],marginTop:margins[2],marginBottom:margins[3],
    x:{domain},y:{domain},
    style:{fontFamily:"Liberation Sans, Arial, sans-serif",fontSize:"17px",background:"transparent",overflow:"visible"},
    marks
  });
  svg.style.left=box[0]+"px";svg.style.top=box[1]+"px";
  page.appendChild(svg);
}

panel({scatter:maxScatter,dense:maxDense,domain:[-20,40],major:[-20,-10,0,10,20,30,40],minor:[-15,-5,5,15,25,35],
  xLabel:"HCN Observed Temperature (°C)",yLabel:"MM5 Simulated Temperature (°C)",
  title:"Maximum Temperature",titleAt:[-15.7,34],box:[0,0,640,565],margins:[70,40,49,63],r:2,rDense:7,xOff:43,yOff:55});
panel({scatter:minScatter,dense:minDense,domain:[-30,30],major:[-30,-20,-10,0,10,20,30],minor:[-25,-15,-5,5,15,25],
  xLabel:"HCN Observed Temperature (°C)",yLabel:"MM5 Simulated Temperature (°C)",
  title:"Minimum Temperature",titleAt:[-26.4,25.1],box:[640,0,607,565],margins:[58,20,51,62],r:2,rDense:7,xOff:43,yOff:56});
panel({scatter:preScatter,dense:preDense,domain:[0,1.5],major:[0,.5,1,1.5],minor:[.25,.75,1.25],
  xLabel:"HCN Observed Precipitation (mm/day)",yLabel:"MM5 Simulated Precipitation (mm/day)",
  title:"Precipitation",titleAt:[.09,1.37],box:[230,600,620,539],margins:[72,15,44,43],r:1.7,rDense:9,xOff:40,yOff:56});

for(const [t,l,y] of [["(a)",50,8],["(b)",701,8],["(c)",247,594]]){
  const d=document.createElement("div");d.className="tag";d.textContent=t;d.style.left=l+"px";d.style.top=y+"px";page.appendChild(d);
}
const legendRows=[658,697,736,776,820,866,905,944,990,1035,1073,1112];
const legend=document.createElement("div");legend.id="legend";
months.forEach((m,i)=>{
  const y=legendRows[i]-634;
  const dot=document.createElement("span");dot.className="lg-dot";dot.style.background=monthColors[i];dot.style.top=(y-3)+"px";
  const txt=document.createElement("span");txt.className="lg-txt";txt.textContent=m;txt.style.top=(y-20)+"px";
  legend.append(dot,txt);
});
page.appendChild(legend);
</script>
</body>
</html>
